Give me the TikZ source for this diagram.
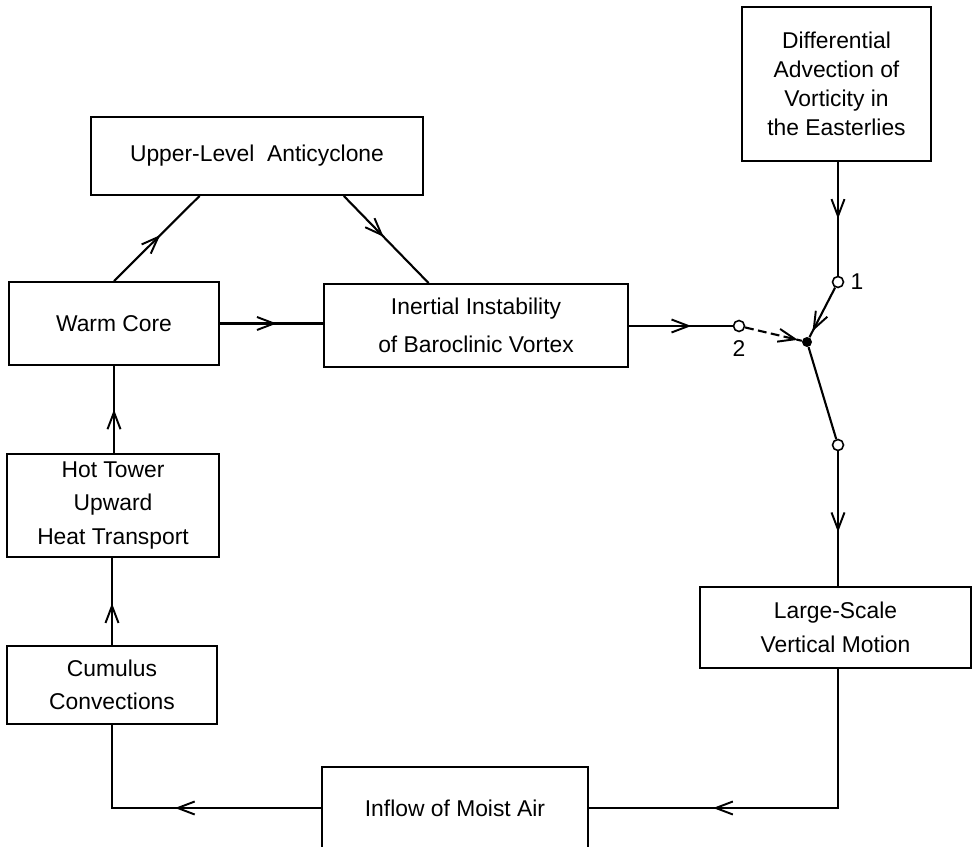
\documentclass[tikz,border=0pt]{standalone}
\usepackage{fontspec}
\setmainfont{Liberation Sans}
\usetikzlibrary{arrows.meta,decorations.markings,calc,positioning}

\tikzset{
  block/.style={draw, line width=1.1pt, align=center, inner sep=0pt,
    font=\fontsize{13}{19}\selectfont},
  link/.style={line width=1.2pt},
  flow/.style={decoration={markings, mark=at position #1 with
    {\arrow{Straight Barb[length=3.4mm,width=2.6mm,line width=1.1pt]}}},
    postaction={decorate}},
  port/.style={circle, draw, fill=white, line width=0.9pt, inner sep=0pt, minimum size=2.2mm},
  hub/.style={circle, fill=black, inner sep=0pt, minimum size=2mm},
}

\begin{document}
\begin{tikzpicture}[x=0.02cm, y=-0.02cm]
  \useasboundingbox (0,0) rectangle (973,847);

  % boxes
  \node (ula) [block, minimum width=6.64cm, minimum height=1.56cm] at (257,156) {Upper-Level \ Anticyclone};
  \node (warm) [block, minimum width=4.2cm, minimum height=1.66cm] at (114,323.5) {Warm Core};
  \node (inert) [block, minimum width=6.08cm, minimum height=1.66cm,
    font=\fontsize{13}{22}\selectfont] at (476,325.5) {Inertial Instability\\of Baroclinic Vortex};
  \node (diff) [block, minimum width=3.78cm, minimum height=3.08cm,
    font=\fontsize{13}{16.5}\selectfont] at (836.5,84) {Differential\\Advection of\\Vorticity in\\the Easterlies};
  \node (hot) [block, minimum width=4.24cm, minimum height=2.06cm] at (113,505.5) {Hot Tower\\Upward\\Heat Transport};
  \node (cum) [block, minimum width=4.2cm, minimum height=1.56cm] at (112,685) {Cumulus\\Convections};
  \node (large) [block, minimum width=5.42cm, minimum height=1.62cm] at (835.5,627.5) {Large-Scale\\Vertical Motion};
  \node (inflow) [block, minimum width=5.32cm, minimum height=1.64cm] at (455,808) {Inflow of Moist Air};

  % switch
  \node (c1) [port] at (838,282) {};
  \node (c2) [port] at (739,326) {};
  \node (c3) [port] at (838,445) {};
  \node (hb) [hub] at (807,342) {};
  \node (l1) [right=0pt of c1, font=\fontsize{13}{15}\selectfont] {1};
  \node (l2) [below=1pt of c2, font=\fontsize{13}{15}\selectfont] {2};

  % connectors
  \draw[link, flow=0.54] (warm.north) -- ($(ula.south west)!0.328!(ula.south east)$);
  \draw[link, flow=0.47] ($(ula.south west)!0.76!(ula.south east)$) -- ($(inert.north west)!0.345!(inert.north east)$);
  \draw[link, flow=0.55] (warm.east) -- (warm.east -| inert.west);
  \draw[link, flow=0.6] (inert.east |- c2) -- (c2);
  \draw[link, dash pattern=on 5pt off 2.5pt, flow=0.93] (c2) -- (hb);
  \draw[link, flow=0.5] (diff.south -| c1) -- (c1);
  \draw[link, flow=0.88] (c1) -- (hb);
  \draw[link] (hb) -- (c3);
  \draw[link, flow=0.6] (c3) -- (large.north -| c3);
  \draw[link, flow=0.68] (large.south -| c3) |- (inflow.east);
  \draw[link, flow=0.5] (inflow.west) -| (cum.south);
  \draw[link, flow=0.48] (cum.north) -- (cum.north |- hot.south);
  \draw[link, flow=0.5] (hot.north -| warm.south) -- (warm.south);
\end{tikzpicture}
\end{document}
